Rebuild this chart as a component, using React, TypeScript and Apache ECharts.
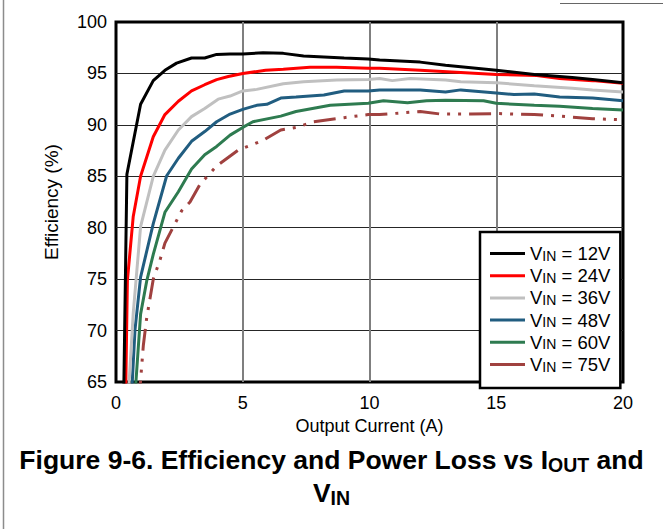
import React, { useEffect, useRef } from "react";
import * as echarts from "echarts";

const FONT = "'Liberation Sans', Arial, sans-serif";

const vinLabels = ["12V", "24V", "36V", "48V", "60V", "75V"];
const seriesColors = ["#000000", "#ff0000", "#c0c0c0", "#215d80", "#2e7b50", "#a0413f"];

const xTicks = [0, 5, 10, 15, 20];
const yTicks = [65, 70, 75, 80, 85, 90, 95, 100];

const iout12 = [0.30, 0.43, 0.97, 1.47, 1.93, 2.39, 2.98, 3.5, 3.97, 4.5, 5.0, 5.8, 6.6, 7.4, 8.2, 9.0, 9.95, 10.4, 11.2, 12.0, 13.0, 13.8, 15.0, 16.5, 18.0, 18.8, 20.0];
const eff12 = [63, 85.2, 92.0, 94.3, 95.3, 96.0, 96.5, 96.5, 96.85, 96.9, 96.9, 97.0, 96.95, 96.7, 96.6, 96.5, 96.4, 96.3, 96.2, 96.1, 95.8, 95.6, 95.3, 94.9, 94.6, 94.4, 94.1];

const iout24 = [0.375, 0.45, 0.68, 0.97, 1.47, 1.93, 2.46, 2.98, 3.5, 3.97, 4.43, 5.0, 5.9, 6.6, 7.65, 8.7, 9.95, 10.4, 12.0, 13.6, 15.0, 16.6, 17.5, 18.8, 20.0];
const eff24 = [63, 74.9, 81.1, 85.0, 88.85, 91.0, 92.3, 93.3, 93.9, 94.4, 94.7, 95.0, 95.3, 95.4, 95.6, 95.6, 95.5, 95.5, 95.3, 95.1, 94.9, 94.8, 94.5, 94.3, 94.05];

const iout36 = [0.47, 0.68, 0.97, 1.47, 1.93, 2.46, 2.98, 3.5, 4.03, 4.5, 5.0, 5.55, 6.6, 7.4, 8.7, 9.95, 10.4, 10.9, 11.6, 13.0, 13.6, 15.0, 16.5, 18.0, 18.8, 20.0];
const eff36 = [63, 71.7, 80.1, 85.0, 87.55, 89.5, 90.8, 91.6, 92.5, 92.8, 93.3, 93.45, 94.0, 94.2, 94.35, 94.4, 94.5, 94.3, 94.5, 94.35, 94.2, 94.1, 93.8, 93.55, 93.4, 93.2];

const iout48 = [0.60, 0.75, 0.97, 1.47, 2.0, 2.46, 2.98, 3.5, 3.97, 4.5, 5.0, 5.55, 5.95, 6.5, 7.1, 8.2, 9.0, 9.95, 10.4, 12.0, 13.0, 13.6, 15.0, 15.7, 16.5, 17.5, 18.8, 20.0];
const eff48 = [63, 70.1, 75.2, 80.4, 85.05, 86.75, 88.4, 89.35, 90.3, 91.05, 91.5, 91.9, 92.0, 92.6, 92.7, 92.9, 93.3, 93.3, 93.4, 93.4, 93.2, 93.4, 93.1, 92.95, 93.0, 92.7, 92.6, 92.35];

const iout60 = [0.73, 0.97, 1.21, 1.47, 1.93, 2.46, 2.98, 3.5, 3.97, 4.5, 5.0, 5.4, 6.5, 7.1, 8.45, 9.95, 10.55, 11.5, 12.25, 13.0, 14.5, 15.0, 16.5, 17.5, 18.8, 20.0];
const eff60 = [63, 71.6, 74.8, 77.4, 81.5, 83.5, 85.7, 87.1, 87.9, 89.0, 89.75, 90.3, 90.85, 91.3, 91.9, 92.1, 92.35, 92.15, 92.35, 92.4, 92.35, 92.1, 91.9, 91.8, 91.6, 91.45];

const iout75 = [0.90, 1.08, 1.21, 1.47, 1.74, 1.93, 2.59, 2.92, 3.31, 3.97, 4.82, 5.3, 5.8, 6.5, 7.1, 7.8, 9.0, 9.95, 10.4, 12.0, 12.8, 14.0, 15.0, 16.5, 17.5, 18.8, 20.0];
const eff75 = [63, 68.6, 71.2, 75.0, 76.9, 78.5, 81.65, 82.5, 84.2, 86.0, 87.55, 88.0, 88.5, 89.5, 89.75, 90.3, 90.7, 91.0, 91.0, 91.3, 91.05, 91.05, 91.1, 91.0, 90.85, 90.6, 90.5];

const ioutSets = [iout12, iout24, iout36, iout48, iout60, iout75];
const effSets = [eff12, eff24, eff36, eff48, eff60, eff75];

export default function App() {
  const ref = useRef<HTMLDivElement>(null);

  useEffect(() => {
    if (!ref.current) return;
    document.body.style.margin = "0";
    const chart = echarts.init(ref.current, undefined, { renderer: "svg" });

    const names = vinLabels.map((v) => `VIN = ${v}`);
    const series = vinLabels
      .map((_, i) => ({
        name: names[i],
        type: "line",
        symbol: "none",
        showSymbol: false,
        clip: true,
        data: ioutSets[i].map((x, j) => [x, effSets[i][j]]),
        lineStyle: {
          color: seriesColors[i],
          width: 3,
          type: i === 5 ? [22, 8, 3, 8, 3, 8] : "solid",
        },
        itemStyle: { color: seriesColors[i] },
      }))
      .reverse();

    const titleRich = {
      t: { fontFamily: FONT, fontSize: 26.5, fontWeight: "bold", lineHeight: 30, fill: "#000" },
      s: { fontFamily: FONT, fontSize: 19.5, fontWeight: "bold", lineHeight: 19, verticalAlign: "bottom", fill: "#000" },
    };

    chart.setOption({
      animation: false,
      backgroundColor: "#ffffff",
      textStyle: { fontFamily: FONT },
      grid: {
        left: 116,
        right: 40,
        top: 22,
        bottom: 147,
        show: true,
        borderColor: "#000000",
        borderWidth: 3,
        backgroundColor: "transparent",
      },
      xAxis: {
        type: "value",
        min: xTicks[0],
        max: xTicks[xTicks.length - 1],
        interval: xTicks[1] - xTicks[0],
        name: "Output Current (A)",
        nameLocation: "middle",
        nameGap: 34,
        nameTextStyle: { fontFamily: FONT, fontSize: 18, color: "#000" },
        axisLine: { show: false },
        axisTick: { show: false },
        axisLabel: { fontFamily: FONT, fontSize: 18, color: "#000", margin: 12 },
        splitLine: { show: true, showMinLine: false, showMaxLine: false, lineStyle: { color: "#7f7f7f", width: 2 } },
      },
      yAxis: {
        type: "value",
        min: yTicks[0],
        max: yTicks[yTicks.length - 1],
        interval: yTicks[1] - yTicks[0],
        name: "Efficiency (%)",
        nameLocation: "middle",
        nameGap: 55,
        nameTextStyle: { fontFamily: FONT, fontSize: 19, color: "#000" },
        axisLine: { show: false },
        axisTick: { show: false },
        axisLabel: { fontFamily: FONT, fontSize: 18, color: "#000", margin: 9 },
        splitLine: { show: true, showMinLine: false, showMaxLine: false, lineStyle: { color: "#262626", width: 1.2 } },
      },
      legend: {
        data: names,
        orient: "vertical",
        left: 480,
        top: 232,
        padding: [12, 10, 14, 10],
        itemGap: 3.2,
        itemWidth: 35,
        itemHeight: 3,
        icon: "rect",
        selectedMode: false,
        backgroundColor: "#ffffff",
        borderColor: "#000000",
        borderWidth: 2.5,
        itemStyle: { borderWidth: 0 },
        lineStyle: { type: "solid" },
        formatter: (name: string) => `{v|V}{s|IN}{v| = ${name.replace("VIN = ", "")}}`,
        textStyle: {
          fontFamily: FONT,
          fontSize: 18.5,
          color: "#000",
          rich: {
            v: { fontFamily: FONT, fontSize: 18.5, lineHeight: 18, color: "#000" },
            s: { fontFamily: FONT, fontSize: 14, lineHeight: 11, verticalAlign: "bottom", color: "#000" },
          },
        },
      },
      graphic: [
        {
          type: "line",
          shape: { x1: 3.5, y1: 0, x2: 3.5, y2: 529 },
          style: { stroke: "#8c8c8c", lineWidth: 1.5 },
          silent: true,
        },
        {
          type: "line",
          shape: { x1: 560, y1: 3.5, x2: 663, y2: 3.5 },
          style: { stroke: "#666666", lineWidth: 1.2 },
          silent: true,
        },
        {
          type: "text",
          left: "center",
          top: 446,
          style: {
            text: "{t|Figure 9-6. Efficiency and Power Loss vs I}{s|OUT}{t| and}",
            rich: titleRich,
          },
        },
        {
          type: "text",
          left: "center",
          top: 479,
          style: {
            text: "{t|V}{s|IN}",
            rich: titleRich,
          },
        },
      ],
      series,
    });

    return () => chart.dispose();
  }, []);

  return (
    <div
      ref={ref}
      style={{ position: "absolute", left: 0, top: 0, width: 663, height: 529 }}
    />
  );
}
